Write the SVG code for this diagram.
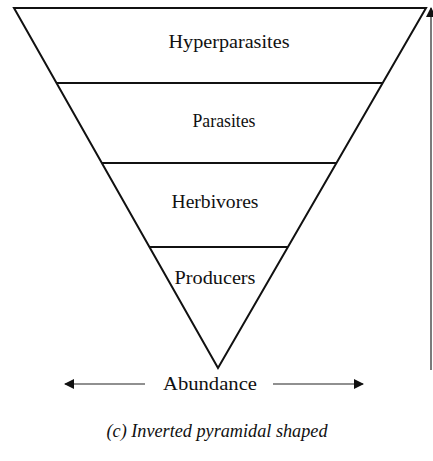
<svg xmlns="http://www.w3.org/2000/svg" width="433" height="461" viewBox="0 0 433 461">
<style>
.ln{stroke:#111;stroke-width:2;fill:none}
.thin{stroke:#222;stroke-width:1.2;fill:none}
.t{font-family:"Liberation Serif","Times New Roman",serif;font-size:18px;fill:#111;text-anchor:middle}
.cap{font-family:"Liberation Serif","Times New Roman",serif;font-size:18px;font-style:italic;fill:#111;text-anchor:middle}
</style>
<defs>
<marker id="ah2" viewBox="0 0 10 10" refX="9" refY="5" markerWidth="13" markerHeight="10" orient="auto-start-reverse" markerUnits="userSpaceOnUse">
<path d="M0,0 L10,5 L0,10 z" fill="#111"/>
</marker>
</defs>
<g id="pyramid">
<path class="ln" d="M14,8 L426,8 L218,368 Z"/>
</g>
<g id="hyperparasites">
<text class="t" x="229" y="48" textLength="121" lengthAdjust="spacingAndGlyphs">Hyperparasites</text>
</g>
<g id="parasites">
<text class="t" x="224" y="127" textLength="63" lengthAdjust="spacingAndGlyphs">Parasites</text>
</g>
<g id="herbivores">
<text class="t" x="215" y="208" textLength="87" lengthAdjust="spacingAndGlyphs">Herbivores</text>
</g>
<g id="producers">
<text class="t" x="215" y="284" textLength="81" lengthAdjust="spacingAndGlyphs">Producers</text>
</g>
<g id="connectors">
<line class="ln" x1="57" y1="83" x2="382" y2="83"/>
<line class="ln" x1="102" y1="163" x2="336" y2="163"/>
<line class="ln" x1="150" y1="247" x2="288" y2="247"/>
<line class="thin" x1="145" y1="384" x2="65" y2="384" marker-end="url(#ah2)"/>
<line class="thin" x1="273" y1="384" x2="363" y2="384" marker-end="url(#ah2)"/>
<line class="thin" x1="431" y1="370" x2="431" y2="8" marker-end="url(#ah2)"/>
</g>
<g id="abundance">
<text class="t" x="210" y="390" textLength="94" lengthAdjust="spacingAndGlyphs">Abundance</text>
</g>
<g id="caption">
<text class="cap" x="217" y="437" textLength="221" lengthAdjust="spacingAndGlyphs">(c) Inverted pyramidal shaped</text>
</g>
</svg>
